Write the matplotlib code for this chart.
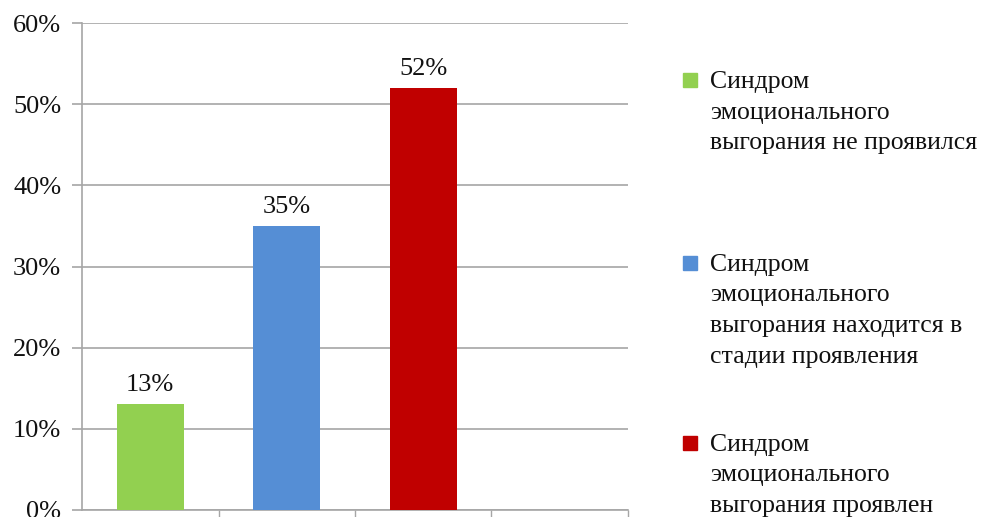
import matplotlib.pyplot as plt
from matplotlib.patches import Rectangle
from matplotlib.ticker import PercentFormatter, MultipleLocator

plt.rcParams['font.family'] = ['Liberation Serif', 'DejaVu Serif']

# data
categories = ['Синдром эмоционального выгорания не проявился',
              'Синдром эмоционального выгорания находится в стадии проявления',
              'Синдром эмоционального выгорания проявлен']
legend_labels = ['Синдром\nэмоционального\nвыгорания не проявился',
                 'Синдром\nэмоционального\nвыгорания находится в\nстадии проявления',
                 'Синдром\nэмоционального\nвыгорания проявлен']
values = [13, 35, 52]
colors = ['#92D050', '#558ED5', '#C00000']
value_labels = ['13%', '35%', '52%']

fig = plt.figure(figsize=(9.82, 5.17), dpi=100)
ax = fig.add_axes([82/982, 1 - 510/517, (628-82)/982, (510-23)/517])

grid_c = '#a6a6a6'
x = list(range(len(values)))
bars = ax.bar(x, values, width=0.49, color=colors, zorder=3)
for b, lab in zip(bars, value_labels):
    ax.annotate(lab, (b.get_x() + b.get_width()/2, b.get_height()),
                xytext=(0, 6), textcoords='offset points',
                ha='center', va='bottom', fontsize=19, color='#111111')

ax.set_xlim(-0.5, 3.5)
ax.set_ylim(0, 60)
ax.yaxis.set_major_locator(MultipleLocator(10))
ax.yaxis.set_major_formatter(PercentFormatter(decimals=0))
ax.grid(axis='y', color=grid_c, linewidth=1.2, zorder=0)

ax.set_xticks([])
ax.set_xticks([0.5, 1.5, 2.5, 3.5], minor=True)
ax.tick_params(axis='x', which='minor', length=8, width=1, color=grid_c, direction='out')
ax.tick_params(axis='y', length=7, width=1.2, color=grid_c, pad=8,
               labelsize=19, labelcolor='#111111')

for s in ['top', 'right']:
    ax.spines[s].set_visible(False)
ax.spines['left'].set_color(grid_c)
ax.spines['bottom'].set_color(grid_c)
ax.spines['left'].set_linewidth(1.2)
ax.spines['bottom'].set_linewidth(1.2)

# legend, drawn by hand so the marker sits on the first line
tops = [80, 263, 443]
for lab, col, yc in zip(legend_labels, colors, tops):
    fig.patches.append(Rectangle((683/982, 1 - (yc + 7)/517), 14/982, 14/517,
                                 transform=fig.transFigure, color=col))
    fig.text(710/982, 1 - (yc - 9)/517, lab, fontsize=18.5, va='top', ha='left',
             linespacing=1.5, color='#111111')

fig.savefig('out.png', dpi=100)
